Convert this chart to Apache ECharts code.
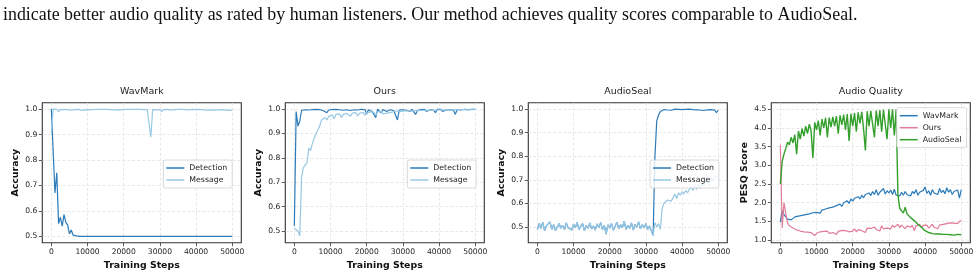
<!DOCTYPE html>
<html>
<head>
<meta charset="utf-8">
<script src="https://cdn.jsdelivr.net/npm/echarts@6.0.0/dist/echarts.min.js"></script>
<style>
  html, body { margin: 0; padding: 0; background: #fff; }
  #chart { width: 980px; height: 275px; }
</style>
</head>
<body>
<div id="chart"></div>
<script>
// training steps, sampled every 500
const steps = []
for (let s = 0; s <= 50000; s += 500) steps.push(s)

const xTicks = [0, 10000, 20000, 30000, 40000, 50000]
const accTicks = [0.5, 0.6, 0.7, 0.8, 0.9, 1.0]
const pesqTicks = [1.0, 1.5, 2.0, 2.5, 3.0, 3.5, 4.0, 4.5]

const titles = ['WavMark', 'Ours', 'AudioSeal', 'Audio Quality']
const caption = 'indicate better audio quality as rated by human listeners. Our method achieves quality scores comparable to AudioSeal.'

// WavMark accuracy
const wavmarkDetection = [
  1.0, 1.0, 0.67, 0.75, 0.55, 0.575, 0.54, 0.585, 0.555, 0.545,
  0.51, 0.525, 0.505, 0.503, 0.502, 0.5, 0.5, 0.5, 0.5, 0.5,
  0.5, 0.5, 0.5, 0.5, 0.5, 0.5, 0.5, 0.5, 0.5, 0.5,
  0.5, 0.5, 0.5, 0.5, 0.5, 0.5, 0.5, 0.5, 0.5, 0.5,
  0.5, 0.5, 0.5, 0.5, 0.5, 0.5, 0.5, 0.5, 0.5, 0.5,
  0.5, 0.5, 0.5, 0.5, 0.5, 0.5, 0.5, 0.5, 0.5, 0.5,
  0.5, 0.5, 0.5, 0.5, 0.5, 0.5, 0.5, 0.5, 0.5, 0.5,
  0.5, 0.5, 0.5, 0.5, 0.5, 0.5, 0.5, 0.5, 0.5, 0.5,
  0.5, 0.5, 0.5, 0.5, 0.5, 0.5, 0.5, 0.5, 0.5, 0.5,
  0.5, 0.5, 0.5, 0.5, 0.5, 0.5, 0.5, 0.5, 0.5, 0.5,
  0.5
]
const wavmarkMessage = [
  0.905, 1.0, 0.997, 0.999, 0.99, 0.998, 0.995, 0.999, 0.997, 0.998,
  0.999, 0.996, 0.999, 0.998, 0.997, 0.999, 0.998, 0.995, 0.999, 0.998,
  0.999, 0.997, 0.999, 0.998, 0.996, 0.999, 0.998, 0.999, 0.997, 0.999,
  0.998, 0.999, 0.996, 0.998, 0.999, 0.997, 0.999, 0.998, 0.999, 0.997,
  0.998, 0.999, 0.996, 0.999, 0.998, 0.999, 0.997, 0.999, 0.998, 0.999,
  0.997, 0.998, 0.999, 0.998, 0.997, 0.89, 0.998, 0.999, 0.997, 0.999,
  0.998, 0.99, 0.998, 0.997, 0.999, 0.998, 0.996, 0.999, 0.998, 0.997,
  0.999, 0.998, 0.999, 0.996, 0.998, 0.999, 0.997, 0.998, 0.999, 0.997,
  0.998, 0.996, 0.999, 0.998, 0.997, 0.99, 0.996, 0.998, 0.997, 0.999,
  0.996, 0.998, 0.997, 0.995, 0.998, 0.996, 0.997, 0.99, 0.995, 0.993,
  0.996
]

// Ours accuracy
const oursDetection = [
  0.52, 0.99, 0.93, 0.95, 0.995, 0.999, 0.997, 1.0, 0.996, 0.999,
  0.998, 0.995, 0.999, 0.997, 0.998, 0.999, 0.993, 0.998, 0.985, 0.996,
  0.992, 0.998, 0.996, 0.999, 0.994, 0.997, 0.999, 0.995, 0.998, 0.997,
  0.999, 0.994, 0.998, 0.997, 0.999, 0.996, 0.998, 0.999, 0.993, 0.998,
  0.98, 0.997, 0.999, 0.99, 0.998, 0.965, 0.999, 0.997, 0.985, 0.998,
  0.999, 0.99, 0.998, 0.997, 0.999, 0.993, 0.998, 0.955, 0.996, 0.999,
  0.997, 0.999, 0.995, 0.998, 0.99, 0.999, 0.997, 0.978, 0.994, 0.999,
  0.998, 0.996, 0.999, 0.99, 0.998, 0.997, 0.999, 0.995, 0.985, 0.999,
  0.997, 0.999, 0.99, 0.998, 0.996, 0.999, 0.997, 0.998, 0.995, 0.978,
  0.998, 0.999, 0.996, 0.998, 0.999, 0.997, 0.998, 0.995, 0.999, 0.998,
  0.999
]
const oursMessage = [
  0.51, 0.505, 0.5, 0.48, 0.72, 0.76, 0.765, 0.78, 0.84, 0.83,
  0.86, 0.88, 0.9, 0.915, 0.93, 0.955, 0.95, 0.965, 0.955, 0.97,
  0.965, 0.975, 0.96, 0.978, 0.97, 0.98, 0.965, 0.978, 0.972, 0.982,
  0.975, 0.97, 0.983, 0.976, 0.985, 0.972, 0.982, 0.978, 0.986, 0.975,
  0.984, 0.978, 0.988, 0.98, 0.986, 0.975, 0.988, 0.982, 0.99, 0.98,
  0.988, 0.983, 0.99, 0.985, 0.978, 0.99, 0.985, 0.992, 0.984, 0.99,
  0.986, 0.992, 0.988, 0.993, 0.985, 0.992, 0.989, 0.994, 0.988, 0.993,
  0.99, 0.995, 0.989, 0.994, 0.991, 0.996, 0.99, 0.995, 0.992, 0.996,
  0.993, 0.997, 0.991, 0.996, 0.994, 0.997, 0.993, 0.996, 0.995, 0.998,
  0.995, 0.997, 0.994, 0.998, 0.996, 0.997, 0.995, 0.998, 0.996, 0.997,
  0.998
]

// AudioSeal accuracy (detection sits under the message curve until ~32k)
const audiosealDetection = [
  0.49, 0.515, 0.495, 0.52, 0.485, 0.505, 0.498, 0.522, 0.49, 0.51,
  0.485, 0.5, 0.515, 0.495, 0.508, 0.49, 0.518, 0.497, 0.505, 0.488,
  0.512, 0.498, 0.52, 0.49, 0.503, 0.515, 0.485, 0.507, 0.495, 0.518,
  0.492, 0.505, 0.488, 0.513, 0.497, 0.52, 0.49, 0.508, 0.47, 0.51,
  0.496, 0.515, 0.487, 0.505, 0.52, 0.493, 0.51, 0.498, 0.525, 0.49,
  0.508, 0.495, 0.518, 0.488, 0.512, 0.5, 0.522, 0.494, 0.51, 0.497,
  0.515, 0.49, 0.505, 0.51, 0.465, 0.8, 0.95, 0.975, 0.99, 0.995,
  0.998, 1.0, 0.996, 0.999, 0.995, 0.998, 1.0, 0.997, 0.999, 0.994,
  0.998, 0.996, 0.999, 0.997, 1.0, 0.995, 0.998, 0.993, 0.997, 0.999,
  0.996, 0.998, 0.994, 0.999, 0.997, 0.995, 0.998, 0.99, 0.996, 0.985,
  0.995
]
const audiosealMessage = [
  0.49, 0.515, 0.495, 0.52, 0.485, 0.505, 0.498, 0.522, 0.49, 0.51,
  0.485, 0.5, 0.515, 0.495, 0.508, 0.49, 0.518, 0.497, 0.505, 0.488,
  0.512, 0.498, 0.52, 0.49, 0.503, 0.515, 0.485, 0.507, 0.495, 0.518,
  0.492, 0.505, 0.488, 0.513, 0.497, 0.52, 0.49, 0.508, 0.47, 0.51,
  0.496, 0.515, 0.487, 0.505, 0.52, 0.493, 0.51, 0.498, 0.525, 0.49,
  0.508, 0.495, 0.518, 0.488, 0.512, 0.5, 0.522, 0.494, 0.51, 0.497,
  0.515, 0.49, 0.505, 0.51, 0.465, 0.52, 0.5, 0.515, 0.49, 0.58,
  0.6, 0.595, 0.615, 0.62, 0.61, 0.625, 0.64, 0.62, 0.645, 0.635,
  0.65, 0.64, 0.655, 0.645, 0.66, 0.67, 0.655, 0.675, 0.66, 0.68,
  0.665, 0.685, 0.675, 0.695, 0.7, 0.68, 0.71, 0.695, 0.715, 0.72,
  0.71
]

// PESQ scores
const pesqWavmark = [
  1.48, 1.78, 1.68, 1.72, 1.56, 1.6, 1.54, 1.58, 1.62, 1.57,
  1.64, 1.6, 1.66, 1.63, 1.68, 1.65, 1.7, 1.66, 1.73, 1.69,
  1.74, 1.78, 1.72, 1.8, 1.76, 1.83, 1.79, 1.86, 1.82, 1.88,
  1.85, 1.92, 1.87, 1.96, 1.9, 2.0, 1.95, 2.05, 1.98, 2.1,
  2.04, 2.12, 2.08, 2.16, 2.1, 2.2, 2.13, 2.22, 2.17, 2.26,
  2.19, 2.3, 2.22, 2.35, 2.2, 2.28, 2.24, 2.38, 2.23, 2.32,
  2.26, 2.34, 2.22, 2.36, 2.2, 2.25, 2.18, 2.28, 2.2, 2.3,
  2.22, 2.27, 2.18, 2.3, 2.24, 2.35, 2.2, 2.28, 2.23, 2.33,
  2.42, 2.25, 2.32, 2.2, 2.35, 2.26, 2.3, 2.22, 2.38, 2.27,
  2.33, 2.24, 2.4, 2.28, 2.35, 2.22, 2.3, 2.25, 2.34, 2.12,
  2.35
]
const pesqOurs = [
  3.55, 1.32, 2.0, 1.7, 1.45, 1.38, 1.35, 1.32, 1.3, 1.27,
  1.26, 1.24, 1.25, 1.22, 1.2, 1.21, 1.18, 1.2, 1.16, 1.12,
  1.18, 1.2, 1.22, 1.17, 1.23, 1.19, 1.24, 1.18, 1.22, 1.2,
  1.25, 1.15, 1.23, 1.2, 1.26, 1.21, 1.25, 1.28, 1.22, 1.27,
  1.24, 1.3, 1.22, 1.28, 1.33, 1.25, 1.3, 1.2, 1.32, 1.27,
  1.31, 1.26, 1.35, 1.28, 1.33, 1.24, 1.38, 1.3, 1.35, 1.32,
  1.37, 1.3, 1.4, 1.34, 1.38, 1.42, 1.33, 1.4, 1.36, 1.3,
  1.38, 1.42, 1.34, 1.4, 1.25, 1.38, 1.36, 1.42, 1.33, 1.39,
  1.35, 1.4, 1.32, 1.37, 1.42, 1.34, 1.38, 1.3, 1.4, 1.36,
  1.42, 1.38, 1.44, 1.4, 1.46, 1.42, 1.45, 1.48, 1.44, 1.5,
  1.52
]
const pesqAudioseal = [
  2.5, 3.1, 3.3, 3.45, 3.62, 3.55, 3.75, 3.6, 3.82, 3.3,
  3.92, 3.7, 3.98, 3.78, 4.05, 3.85, 4.1, 3.92, 3.2, 4.15,
  3.95, 4.2, 3.8, 4.24, 4.0, 4.27, 3.75, 4.28, 4.02, 4.3,
  4.05, 4.32, 3.85, 4.34, 4.08, 4.36, 3.95, 4.37, 3.65, 4.38,
  4.05, 4.4, 3.9, 4.42, 4.12, 4.43, 3.98, 3.4, 4.45, 4.05,
  4.46, 4.1, 3.75, 4.47, 4.05, 4.48, 3.9, 4.49, 4.1, 3.7,
  4.5, 4.0, 4.5, 3.8, 4.5, 2.2, 1.85, 1.78, 1.72, 1.88,
  1.7, 1.65, 1.6, 1.55, 1.52, 1.47, 1.42, 1.38, 1.34, 1.3,
  1.25, 1.22, 1.2, 1.18, 1.17, 1.18, 1.16, 1.15, 1.16, 1.15,
  1.15, 1.14, 1.15, 1.13, 1.14, 1.15, 1.13, 1.14, 1.15, 1.14,
  1.14
]

const cDet = '#2b7bba'
const cMsg = '#98c8e4'
const cWav = '#2b7bba'
const cOurs = '#e27b96'
const cSeal = '#33a02c'

const FONT = 'DejaVu Sans'
const gridLeft = [42.3, 285.3, 528.3, 771.3]
const gridTop = 102.7
const gridW = 199
const gridH = 140
const yRange = [[0.475, 1.025], [0.452, 1.026], [0.434, 1.027], [0.928, 4.677]]

const pair = (vals) => steps.map((s, i) => [s, vals[i]])

const chart = echarts.init(document.getElementById('chart'))

const grids = gridLeft.map((l) => ({
  left: l, top: gridTop, width: gridW, height: gridH,
  show: true, borderColor: '#333', borderWidth: 1.1, backgroundColor: 'transparent'
}))

const splitLine = { show: true, lineStyle: { color: '#e2e2e2', width: 0.8, type: [3, 2] } }

const xAxes = gridLeft.map((l, i) => ({
  type: 'value', gridIndex: i, min: -2500, max: 52500,
  name: 'Training Steps', nameLocation: 'middle', nameGap: 15,
  nameTextStyle: { fontSize: 9.4, fontWeight: 'bold', color: '#111', fontFamily: FONT },
  axisLine: { show: false, onZero: false },
  axisTick: { show: true, length: 3.5, lineStyle: { color: '#333', width: 0.8 }, customValues: xTicks },
  axisLabel: { fontSize: 7.6, color: '#222', margin: 5, fontFamily: FONT, customValues: xTicks,
    formatter: (v) => String(v) },
  splitLine: splitLine
}))

const yAxes = gridLeft.map((l, i) => {
  const ticks = i === 3 ? pesqTicks : accTicks
  return {
    type: 'value', gridIndex: i, min: yRange[i][0], max: yRange[i][1],
    name: i === 3 ? 'PESQ Score' : 'Accuracy', nameLocation: 'middle', nameGap: 22,
    nameTextStyle: { fontSize: 9.4, fontWeight: 'bold', color: '#111', fontFamily: FONT },
    axisLine: { show: false, onZero: false },
    axisTick: { show: true, length: 3.5, lineStyle: { color: '#333', width: 0.8 }, customValues: ticks },
    axisLabel: { fontSize: 7.6, color: '#222', margin: 5, fontFamily: FONT, customValues: ticks,
      formatter: (v) => v.toFixed(1) },
    splitLine: splitLine
  }
})

function line(name, gi, vals, color, w) {
  return {
    name: name, type: 'line', xAxisIndex: gi, yAxisIndex: gi,
    data: pair(vals), showSymbol: false, symbol: 'none',
    lineStyle: { width: w || 1.2, color: color }, itemStyle: { color: color },
    emphasis: { disabled: true }
  }
}

const series = [
  line('Detection', 0, wavmarkDetection, cDet),
  line('Message', 0, wavmarkMessage, cMsg),
  line('Detection', 1, oursDetection, cDet),
  line('Message', 1, oursMessage, cMsg),
  line('Detection', 2, audiosealDetection, cDet),
  line('Message', 2, audiosealMessage, cMsg),
  line('WavMark', 3, pesqWavmark, cWav),
  line('Ours', 3, pesqOurs, cOurs),
  line('AudioSeal', 3, pesqAudioseal, cSeal, 1.4)
]

function legend(names, left, top) {
  return {
    data: names, left: left, top: top, orient: 'vertical', align: 'left',
    icon: 'rect', itemWidth: 18, itemHeight: 1.5, itemGap: 2,
    padding: [3, 5, 3, 3], selectedMode: false,
    backgroundColor: 'rgba(255,255,255,0.8)', borderColor: '#d0d0d0', borderWidth: 0.8, borderRadius: 2,
    textStyle: { fontSize: 7.8, color: '#222', lineHeight: 10, fontFamily: FONT }
  }
}

const graphics = titles.map((t, i) => ({
  type: 'text', x: gridLeft[i] + gridW / 2, y: 91.5,
  style: { text: t, font: '9.5px "DejaVu Sans"', fill: '#222', align: 'center', verticalAlign: 'middle' }
}))
graphics.push({
  type: 'text', x: 3, y: 15,
  style: { text: caption, font: '17.9px "Liberation Serif"', fill: '#111', align: 'left', verticalAlign: 'middle' }
})

chart.setOption({
  animation: false,
  grid: grids,
  xAxis: xAxes,
  yAxis: yAxes,
  legend: [
    legend(['Detection', 'Message'], 163.3, 160),
    legend(['Detection', 'Message'], 407.3, 160),
    legend(['Detection', 'Message'], 650, 160),
    legend(['WavMark', 'Ours', 'AudioSeal'], 896.7, 107.7)
  ],
  series: series,
  graphic: graphics
})
</script>
</body>
</html>
